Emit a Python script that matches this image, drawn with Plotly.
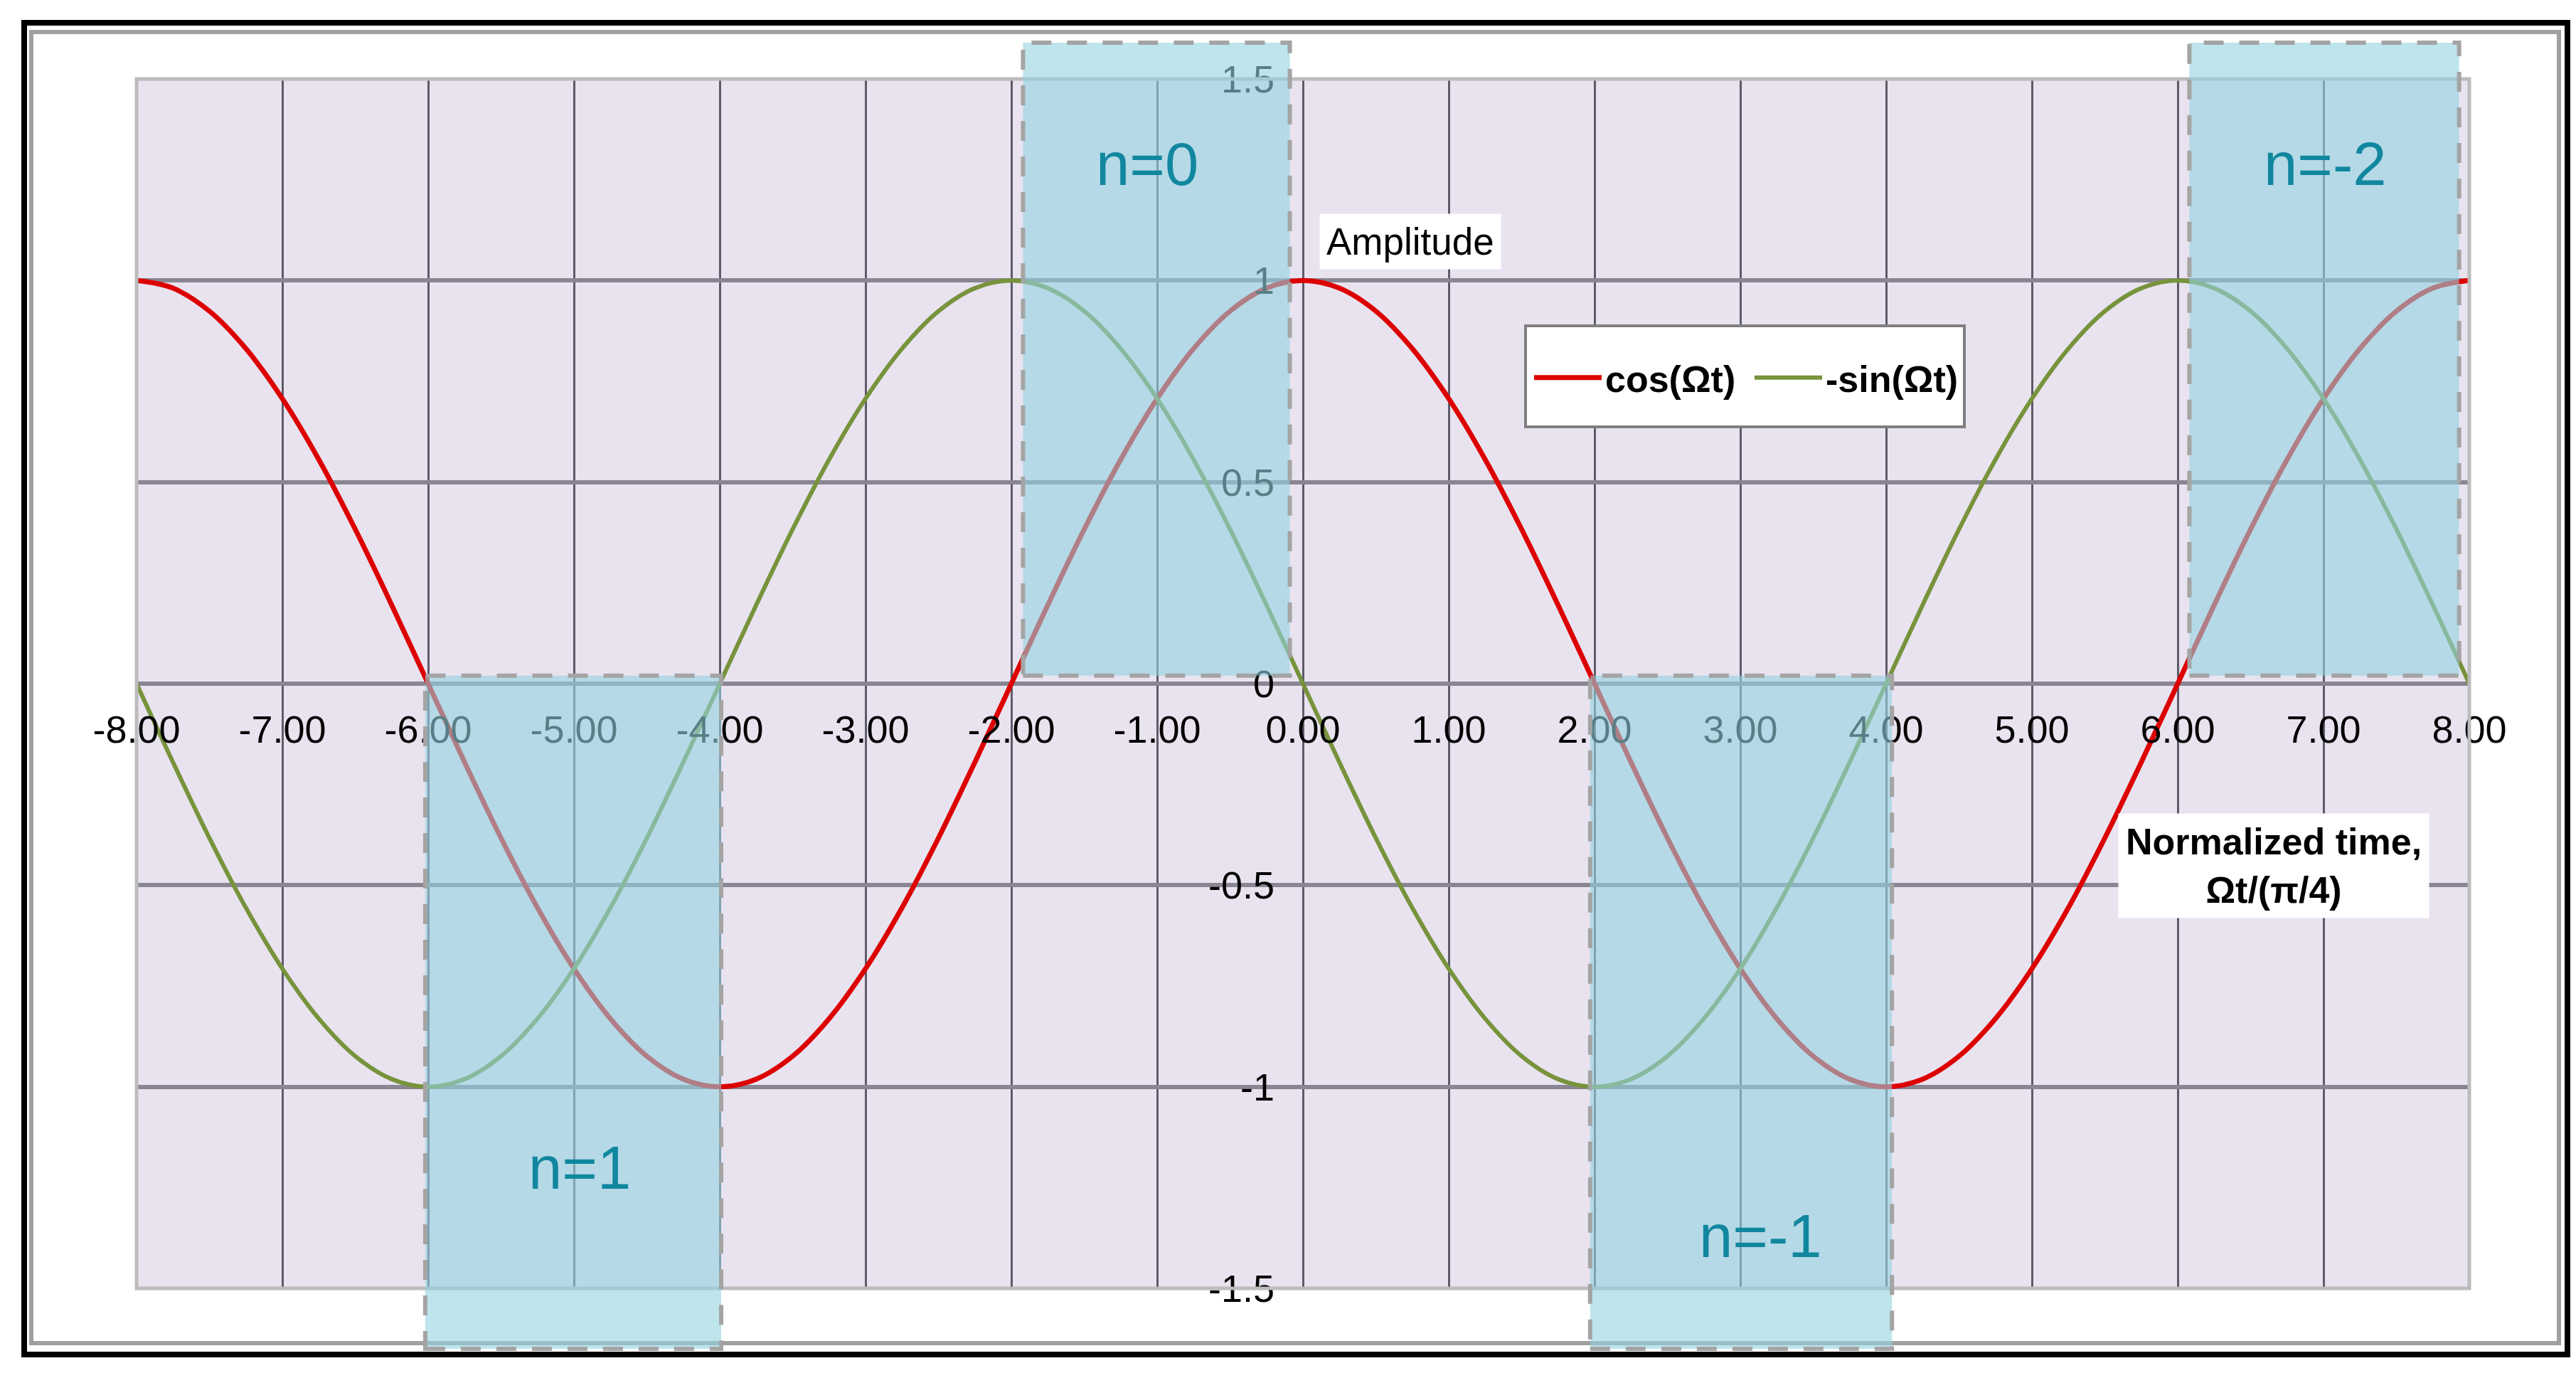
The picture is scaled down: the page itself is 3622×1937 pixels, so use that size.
import plotly.graph_objects as go

# ---------------- data ----------------
x_values = [-8.0, -7.75, -7.5, -7.25, -7.0, -6.75, -6.5, -6.25, -6.0, -5.75, -5.5, -5.25,
            -5.0, -4.75, -4.5, -4.25, -4.0, -3.75, -3.5, -3.25, -3.0, -2.75, -2.5, -2.25,
            -2.0, -1.75, -1.5, -1.25, -1.0, -0.75, -0.5, -0.25, 0.0, 0.25, 0.5, 0.75,
            1.0, 1.25, 1.5, 1.75, 2.0, 2.25, 2.5, 2.75, 3.0, 3.25, 3.5, 3.75,
            4.0, 4.25, 4.5, 4.75, 5.0, 5.25, 5.5, 5.75, 6.0, 6.25, 6.5, 6.75,
            7.0, 7.25, 7.5, 7.75, 8.0]

cos_values = [1.0, 0.981, 0.924, 0.831, 0.707, 0.556, 0.383, 0.195, 0.0, -0.195, -0.383, -0.556,
              -0.707, -0.831, -0.924, -0.981, -1.0, -0.981, -0.924, -0.831, -0.707, -0.556, -0.383, -0.195,
              0.0, 0.195, 0.383, 0.556, 0.707, 0.831, 0.924, 0.981, 1.0, 0.981, 0.924, 0.831,
              0.707, 0.556, 0.383, 0.195, 0.0, -0.195, -0.383, -0.556, -0.707, -0.831, -0.924, -0.981,
              -1.0, -0.981, -0.924, -0.831, -0.707, -0.556, -0.383, -0.195, 0.0, 0.195, 0.383, 0.556,
              0.707, 0.831, 0.924, 0.981, 1.0]

neg_sin_values = [0.0, -0.195, -0.383, -0.556, -0.707, -0.831, -0.924, -0.981, -1.0, -0.981, -0.924, -0.831,
                  -0.707, -0.556, -0.383, -0.195, 0.0, 0.195, 0.383, 0.556, 0.707, 0.831, 0.924, 0.981,
                  1.0, 0.981, 0.924, 0.831, 0.707, 0.556, 0.383, 0.195, 0.0, -0.195, -0.383, -0.556,
                  -0.707, -0.831, -0.924, -0.981, -1.0, -0.981, -0.924, -0.831, -0.707, -0.556, -0.383, -0.195,
                  0.0, 0.195, 0.383, 0.556, 0.707, 0.831, 0.924, 0.981, 1.0, 0.981, 0.924, 0.831,
                  0.707, 0.556, 0.383, 0.195, 0.0]

series_names = ["cos(Ωt)", "-sin(Ωt)"]

x_tick_vals = [-8, -7, -6, -5, -4, -3, -2, -1, 0, 1, 2, 3, 4, 5, 6, 7, 8]
x_tick_labels = ["-8.00", "-7.00", "-6.00", "-5.00", "-4.00", "-3.00", "-2.00", "-1.00", "0.00",
                 "1.00", "2.00", "3.00", "4.00", "5.00", "6.00", "7.00", "8.00"]
y_tick_vals = [-1.5, -1, -0.5, 0, 0.5, 1, 1.5]
y_tick_labels = ["-1.5", "-1", "-0.5", "0", "0.5", "1", "1.5"]

region_labels = ["n=0", "n=1", "n=-1", "n=-2"]

# ---------------- layout geometry ----------------
W, H = 3622, 1937
L, R, T, B = 192, 3472, 111, 1811
XMIN, XMAX, YMIN, YMAX = -8, 8, -1.5, 1.5


def px2paper_x(px):
    return (px - L) / (R - L)


def px2paper_y(py):
    return (B - py) / (B - T)


def dx(x):
    return (x - XMIN) / (XMAX - XMIN)


def dy(y):
    return (y - YMIN) / (YMAX - YMIN)


FONT = "Arial, Liberation Sans, sans-serif"

fig = go.Figure()
fig.add_trace(go.Scatter(x=x_values, y=cos_values, mode="lines", name=series_names[0],
                         line=dict(color="#DC0000", width=7, shape="spline", smoothing=1)))
fig.add_trace(go.Scatter(x=x_values, y=neg_sin_values, mode="lines", name=series_names[1],
                         line=dict(color="#77933C", width=6, shape="spline", smoothing=1)))

shapes = []
# outer frames
shapes.append(dict(type="rect", xref="paper", yref="paper", layer="above",
                   x0=px2paper_x(34), x1=px2paper_x(3610), y0=px2paper_y(1904), y1=px2paper_y(32),
                   line=dict(color="black", width=8), fillcolor="rgba(0,0,0,0)"))
shapes.append(dict(type="rect", xref="paper", yref="paper", layer="above",
                   x0=px2paper_x(44), x1=px2paper_x(3598), y0=px2paper_y(1888), y1=px2paper_y(45),
                   line=dict(color="#a0a0a0", width=6), fillcolor="rgba(0,0,0,0)"))
# plot-area border
shapes.append(dict(type="rect", xref="paper", yref="paper", layer="above",
                   x0=0, x1=1, y0=0, y1=1,
                   line=dict(color="#bcbcbc", width=5), fillcolor="rgba(0,0,0,0)"))
# legend box
shapes.append(dict(type="rect", xref="paper", yref="paper", layer="above",
                   x0=px2paper_x(2145), x1=px2paper_x(2762), y0=px2paper_y(600), y1=px2paper_y(458),
                   line=dict(color="#7f7f7f", width=4), fillcolor="white"))

# shaded regions (x0, x1, y0, y1 in data units)
region_boxes = [(-1.92, -0.09, 0.02, 1.59),
                (-6.02, -3.99, -1.65, 0.02),
                (1.97, 4.04, -1.65, 0.02),
                (6.08, 7.93, 0.02, 1.59)]
for (a, b, c, d) in region_boxes:
    shapes.append(dict(type="rect", xref="paper", yref="paper", layer="above",
                       x0=dx(a), x1=dx(b), y0=dy(c), y1=dy(d),
                       fillcolor="rgba(147,210,223,0.6)",
                       line=dict(color="#a4a4a4", width=6, dash="28px,22px")))

annotations = []
label_pos = [(-1.07, 1.29), (-4.96, -1.20), (3.14, -1.37), (7.01, 1.29)]
for txt, (ax_, ay_) in zip(region_labels, label_pos):
    annotations.append(dict(x=ax_, y=ay_, xref="x", yref="y", text=txt, showarrow=False,
                            font=dict(family=FONT, size=85, color="#11879f")))

annotations.append(dict(x=0.737, y=1.097, xref="x", yref="y", text="Amplitude", showarrow=False,
                        bgcolor="white", borderpad=9,
                        font=dict(family=FONT, size=53, color="black")))
annotations.append(dict(x=6.66, y=-0.452, xref="x", yref="y",
                        text="<b>Normalized time,</b><br><b>Ωt/(π/4)</b>", showarrow=False,
                        bgcolor="white", borderpad=10,
                        font=dict(family=FONT, size=52, color="black")))

fig.update_layout(
    width=W, height=H, autosize=False,
    margin=dict(l=L, r=W - R, t=T, b=H - B, pad=0),
    paper_bgcolor="white",
    plot_bgcolor="#E9E3F0",
    shapes=shapes,
    annotations=annotations,
    showlegend=True,
    legend=dict(orientation="h", x=px2paper_x(2152), y=px2paper_y(531),
                xanchor="left", yanchor="middle",
                bgcolor="rgba(0,0,0,0)", borderwidth=0,
                font=dict(family=FONT, size=52, color="black", weight="bold"),
                itemwidth=95, entrywidth=200, entrywidthmode="pixels"),
    xaxis=dict(range=[XMIN, XMAX], anchor="free", position=0.5,
               tickmode="array", tickvals=x_tick_vals, ticktext=x_tick_labels,
               showgrid=True, gridcolor="#5f5a6a", gridwidth=3,
               zeroline=False, showline=False, ticks="",
               tickfont=dict(family=FONT, size=54, color="black"),
               ticklabelstandoff=28),
    yaxis=dict(range=[YMIN, YMAX], anchor="free", position=0.5,
               tickmode="array", tickvals=y_tick_vals, ticktext=y_tick_labels,
               showgrid=True, gridcolor="#8a8592", gridwidth=6,
               zeroline=False, showline=False, ticks="",
               tickfont=dict(family=FONT, size=54, color="black"),
               ticklabelstandoff=40),
)

fig.write_html("out.html", config={"displayModeBar": False},
               post_script="document.body.style.margin='0';document.body.style.overflow='hidden';")
